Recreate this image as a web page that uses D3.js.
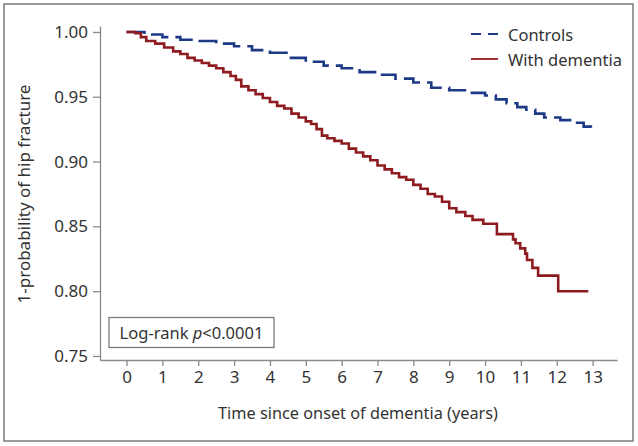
<!DOCTYPE html>
<html><head><meta charset="utf-8">
<script src="https://cdn.jsdelivr.net/npm/d3@7"></script>
<style>
body{margin:0;background:#fff;}
text{font-family:"Noto Sans",sans-serif;}
</style></head>
<body>
<svg id="chart" width="638" height="446"></svg>
<script>
// ---- data ----
const yTicks = [0.75, 0.80, 0.85, 0.90, 0.95, 1.00];
const xTicks = [0,1,2,3,4,5,6,7,8,9,10,11,12,13];
const seriesNames = ["Controls", "With dementia"];
const dementiaTime = [0,0.25,0.4,0.55,0.8,1.05,1.3,1.5,1.7,1.9,2.1,2.3,2.5,2.7,2.9,3.05,3.2,3.4,3.6,3.8,4.0,4.2,4.4,4.6,4.8,5.0,5.15,5.3,5.45,5.6,5.8,6.0,6.2,6.4,6.6,6.8,7.0,7.2,7.4,7.6,7.8,8.0,8.2,8.4,8.6,8.8,9.0,9.2,9.45,9.65,9.95,10.33,10.78,10.85,10.98,11.12,11.17,11.32,11.48,12.04,12.88];
const dementiaSurv = [1.000,0.999,0.996,0.993,0.991,0.988,0.985,0.983,0.980,0.978,0.976,0.974,0.972,0.969,0.966,0.963,0.958,0.955,0.952,0.949,0.946,0.943,0.941,0.937,0.934,0.931,0.929,0.925,0.920,0.918,0.916,0.914,0.910,0.907,0.904,0.901,0.897,0.894,0.891,0.888,0.886,0.882,0.879,0.875,0.873,0.869,0.864,0.861,0.858,0.855,0.852,0.844,0.840,0.837,0.833,0.829,0.824,0.818,0.812,0.800,0.800];
const controlTime = [0,0.5,1.0,1.5,2.0,2.5,3.0,3.5,4.0,4.5,5.0,5.5,6.0,6.5,7.0,7.5,8.0,8.5,9.0,9.5,10.0,10.3,10.6,10.9,11.15,11.4,11.65,12.1,12.5,12.75,12.95,12.98];
const controlSurv = [1.000,0.998,0.996,0.994,0.993,0.991,0.989,0.986,0.984,0.980,0.977,0.974,0.972,0.969,0.967,0.964,0.961,0.957,0.955,0.953,0.951,0.948,0.945,0.942,0.940,0.937,0.934,0.932,0.930,0.927,0.925,0.925];

const svg = d3.select("#chart");
const axisColor = "#8a8a8a";
const textColor = "#333";
const blue = "#1d3a87", red = "#8e1b1f";

// outer frame
svg.append("rect").attr("x",4).attr("y",4).attr("width",629).attr("height",437)
  .attr("fill","none").attr("stroke","#7a7a7a").attr("stroke-width",1.5);

const x = d3.scaleLinear().domain([-0.74, 13.68]).range([100, 617]);
const y = d3.scaleLinear().domain([0.7469, 1.0046]).range([360, 26]);

// axes
const gx = svg.append("g").attr("transform","translate(0,360)")
  .call(d3.axisBottom(x).tickValues(xTicks).tickFormat(d3.format("d")).tickSize(6).tickSizeOuter(0).tickPadding(5));
const gy = svg.append("g").attr("transform","translate(100,0)")
  .call(d3.axisLeft(y).tickValues(yTicks).tickFormat(d3.format(".2f")).tickSize(7).tickSizeOuter(0).tickPadding(5));
[gx, gy].forEach(g => {
  g.select(".domain").attr("stroke", axisColor).attr("stroke-width",1.3);
  g.selectAll(".tick line").attr("stroke", axisColor).attr("stroke-width",1.3);
  g.selectAll(".tick text").attr("fill", textColor).attr("font-size",17)
    .attr("font-family","'Noto Sans',sans-serif");
});

// axis titles
svg.append("text").attr("x",358).attr("y",419).attr("text-anchor","middle")
  .attr("font-size",16.3).attr("fill",textColor).text("Time since onset of dementia (years)");
svg.append("text").attr("transform","translate(30,194) rotate(-90)").attr("text-anchor","middle")
  .attr("font-size",17).attr("fill",textColor).text("1-probability of hip fracture");

// curves
const line = d3.line().curve(d3.curveStepAfter).x(d=>x(d[0])).y(d=>y(d[1]));
const ctrl = controlTime.map((t,i)=>[t, controlSurv[i]]);
const dem = dementiaTime.map((t,i)=>[t, dementiaSurv[i]]);
svg.append("path").datum(ctrl).attr("d", line).attr("fill","none")
  .attr("stroke", blue).attr("stroke-width",2.6).attr("stroke-dasharray","20,7");
svg.append("path").datum(dem).attr("d", line).attr("fill","none")
  .attr("stroke", red).attr("stroke-width",2.6);

// legend
const lg = svg.append("g");
lg.append("line").attr("x1",471).attr("x2",498).attr("y1",34).attr("y2",34)
  .attr("stroke", blue).attr("stroke-width",1.8).attr("stroke-dasharray","10,7");
lg.append("line").attr("x1",471).attr("x2",498).attr("y1",59).attr("y2",59)
  .attr("stroke", red).attr("stroke-width",1.8);
lg.append("text").attr("x",508).attr("y",41).attr("font-size",16.5).attr("fill",textColor).text(seriesNames[0]);
lg.append("text").attr("x",508).attr("y",66).attr("font-size",16.5).attr("fill",textColor).text(seriesNames[1]);

// log-rank box
svg.append("rect").attr("x",109).attr("y",317.5).attr("width",165).attr("height",30)
  .attr("fill","#fff").attr("stroke","#7a7a7a").attr("stroke-width",1.3);
const lt = svg.append("text").attr("x",191.5).attr("y",339).attr("text-anchor","middle")
  .attr("font-size",16.5).attr("fill",textColor);
lt.append("tspan").text("Log-rank ");
lt.append("tspan").attr("font-style","italic").text("p");
lt.append("tspan").text("<0.0001");
</script>
</body></html>
